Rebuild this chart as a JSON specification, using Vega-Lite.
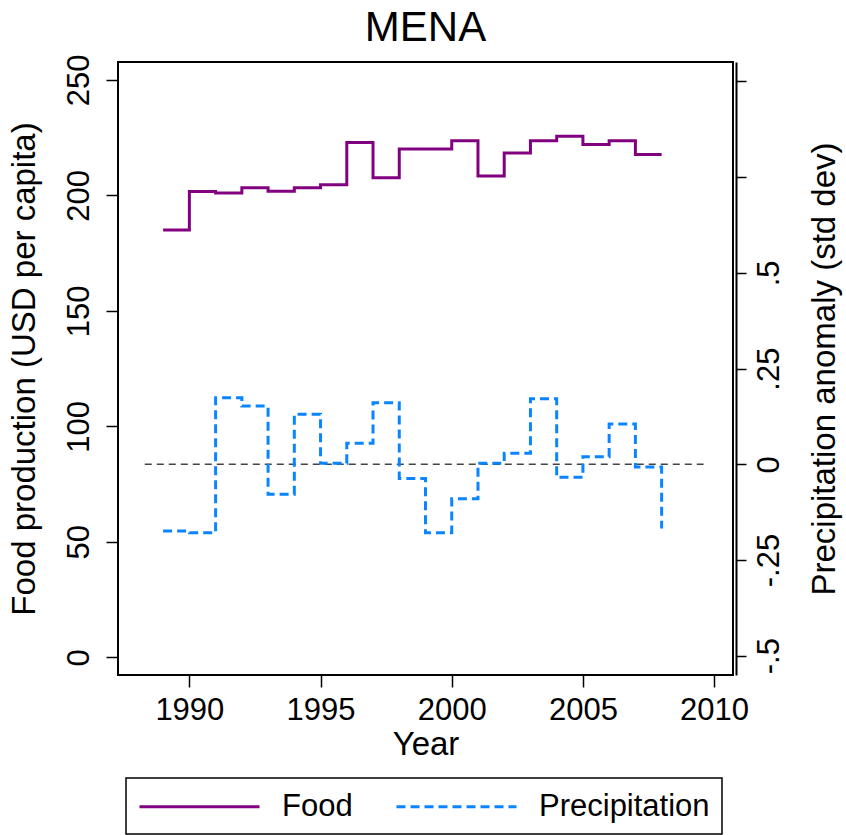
{
  "$schema": "https://vega.github.io/schema/vega-lite/v6.json",
  "autosize": {"type": "none"},
  "padding": {"left": 118, "top": 62, "right": 113, "bottom": 160},
  "width": 615,
  "height": 613,
  "background": "white",
  "title": {"text": "MENA", "fontSize": 42, "font": "Liberation Sans", "fontWeight": "normal", "color": "black", "baseline": "alphabetic", "offset": 9, "dy": 38},
  "config": {
    "view": {"stroke": "black", "strokeWidth": 2},
    "font": "Liberation Sans",
    "axis": {"labelFont": "Liberation Sans", "titleFont": "Liberation Sans", "labelFontSize": 31, "titleFontSize": 33, "titleFontWeight": "normal", "labelColor": "black", "titleColor": "black", "tickColor": "black", "domainColor": "black", "tickWidth": 1.5, "grid": false}
  },
  "datasets": {
    "series": [
      {"year": 1989, "series": "Food", "value": 185},
      {"year": 1990, "series": "Food", "value": 201.6},
      {"year": 1991, "series": "Food", "value": 201},
      {"year": 1992, "series": "Food", "value": 203.3},
      {"year": 1993, "series": "Food", "value": 201.7},
      {"year": 1994, "series": "Food", "value": 203.3},
      {"year": 1995, "series": "Food", "value": 204.6},
      {"year": 1996, "series": "Food", "value": 222.9},
      {"year": 1997, "series": "Food", "value": 207.6},
      {"year": 1998, "series": "Food", "value": 220},
      {"year": 1999, "series": "Food", "value": 220},
      {"year": 2000, "series": "Food", "value": 223.6},
      {"year": 2001, "series": "Food", "value": 208.4},
      {"year": 2002, "series": "Food", "value": 218.3},
      {"year": 2003, "series": "Food", "value": 223.6},
      {"year": 2004, "series": "Food", "value": 225.6},
      {"year": 2005, "series": "Food", "value": 222},
      {"year": 2006, "series": "Food", "value": 223.6},
      {"year": 2007, "series": "Food", "value": 217.7},
      {"year": 2008, "series": "Food", "value": 217.7},
      {"year": 1989, "series": "Precipitation", "value": -0.174},
      {"year": 1990, "series": "Precipitation", "value": -0.179},
      {"year": 1991, "series": "Precipitation", "value": 0.174},
      {"year": 1992, "series": "Precipitation", "value": 0.152},
      {"year": 1993, "series": "Precipitation", "value": -0.078},
      {"year": 1994, "series": "Precipitation", "value": 0.131},
      {"year": 1995, "series": "Precipitation", "value": 0.003},
      {"year": 1996, "series": "Precipitation", "value": 0.055},
      {"year": 1997, "series": "Precipitation", "value": 0.161},
      {"year": 1998, "series": "Precipitation", "value": -0.037},
      {"year": 1999, "series": "Precipitation", "value": -0.179},
      {"year": 2000, "series": "Precipitation", "value": -0.09},
      {"year": 2001, "series": "Precipitation", "value": 0.003},
      {"year": 2002, "series": "Precipitation", "value": 0.029},
      {"year": 2003, "series": "Precipitation", "value": 0.171},
      {"year": 2004, "series": "Precipitation", "value": -0.034},
      {"year": 2005, "series": "Precipitation", "value": 0.02},
      {"year": 2006, "series": "Precipitation", "value": 0.105},
      {"year": 2007, "series": "Precipitation", "value": -0.007},
      {"year": 2008, "series": "Precipitation", "value": -0.168}
    ],
    "zero": [{"start": 1988.3, "end": 2009.6, "ref": 0}]
  },
  "layer": [
    {
      "data": {"name": "series"},
      "transform": [{"filter": "datum.series === 'Food'"}],
      "mark": {"type": "line", "interpolate": "step-after", "strokeWidth": 3},
      "encoding": {
        "x": {"field": "year", "type": "quantitative", "scale": {"domain": [1987.28, 2010.72], "nice": false, "zero": false},
          "axis": {"values": [1990, 1995, 2000, 2005, 2010], "format": "d", "title": "Year", "domain": false, "tickSize": 12, "labelPadding": 8, "titlePadding": 3}},
        "y": {"field": "value", "type": "quantitative", "scale": {"domain": [-7.67, 257.7], "nice": false, "zero": false},
          "axis": {"orient": "left", "values": [0, 50, 100, 150, 200, 250], "format": "d", "title": "Food production (USD per capita)", "labelAngle": -90, "tickSize": 12, "labelPadding": 11, "titlePadding": 22, "domain": false}},
        "color": {"field": "series", "type": "nominal", "scale": {"domain": ["Food", "Precipitation"], "range": ["#800080", "#0a84ff"]},
          "legend": {"title": null, "orient": "none", "legendX": 8, "legendY": 716, "direction": "horizontal", "symbolType": "M-1,0H7", "symbolSize": 900, "symbolStrokeWidth": 3, "symbolFillColor": "transparent", "labelFontSize": 31, "labelFont": "Liberation Sans", "labelColor": "black", "labelLimit": 400, "strokeColor": "black", "fillColor": "white", "padding": 12, "labelOffset": 111, "columnPadding": 37,
            "encode": {"legend": {"update": {"strokeWidth": {"value": 1.5}}}}}},
        "strokeDash": {"field": "series", "type": "nominal", "scale": {"domain": ["Food", "Precipitation"], "range": [[1, 0], [9, 5]]}, "legend": {"title": null}}
      }
    },
    {
      "layer": [
        {
          "data": {"name": "zero"},
          "mark": {"type": "rule", "strokeDash": [7, 5], "color": "#444444", "strokeWidth": 1.5},
          "encoding": {
            "x": {"field": "start", "type": "quantitative"},
            "x2": {"field": "end"},
            "y": {"field": "ref", "type": "quantitative"}
          }
        },
        {
          "data": {"name": "series"},
          "transform": [{"filter": "datum.series === 'Precipitation'"}],
          "mark": {"type": "line", "interpolate": "step-after", "strokeWidth": 3},
          "encoding": {
            "x": {"field": "year", "type": "quantitative"},
            "y": {"field": "value", "type": "quantitative", "scale": {"domain": [-0.5504, 1.0509], "nice": false, "zero": false},
              "axis": {"orient": "right", "values": [-0.5, -0.25, 0, 0.25, 0.5, 0.75, 1], "labelExpr": "datum.value == 0.5 ? '.5' : datum.value == 0.25 ? '.25' : datum.value == 0 ? '0' : datum.value == -0.25 ? '-.25' : datum.value == -0.5 ? '-.5' : ''", "title": "Precipitation anomaly (std dev)", "labelAngle": -90, "titleAngle": -90, "titleBaseline": "top", "tickSize": 10, "offset": 3, "domain": true, "domainWidth": 2, "labelPadding": 8, "titlePadding": 24}},
            "color": {"field": "series", "type": "nominal"},
            "strokeDash": {"field": "series", "type": "nominal"}
          }
        }
      ]
    }
  ],
  "resolve": {"scale": {"y": "independent"}}
}
